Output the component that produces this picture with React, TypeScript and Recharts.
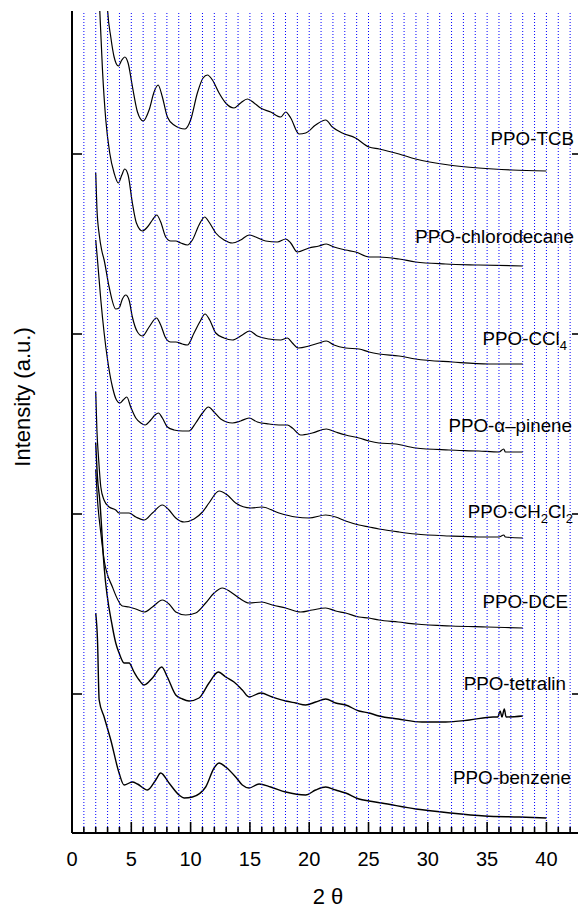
import React from 'react';
import { LineChart, Line, XAxis, YAxis } from 'recharts';

// 2θ (deg), intensity (a.u., arbitrary offset per trace)
const PPO_TCB: [number, number][] = [
  [2.5, 960], [2.9, 845], [3.0, 823], [3.27, 796], [3.55, 776], [3.91, 767], [4.2, 773], [4.45, 776],
  [4.73, 770], [5.1, 746], [5.52, 721], [6.0, 712], [6.5, 723], [6.92, 741], [7.26, 748], [7.62, 736],
  [8.04, 716], [8.6, 708], [9.53, 704], [10.0, 713], [10.57, 740], [11.05, 755], [11.42, 758], [11.84, 753],
  [12.4, 740], [12.96, 730], [13.66, 725], [14.22, 730], [14.79, 734], [15.35, 730], [15.9, 725], [16.75, 721],
  [17.6, 716], [18.02, 721], [18.44, 715], [19.14, 699], [19.7, 700], [20.54, 708], [21.39, 713], [21.95, 706],
  [22.79, 700], [23.9, 695], [25.04, 686], [25.9, 684], [27.57, 679], [28.97, 674], [31.78, 668], [34.3, 665],
  [37.1, 663], [40, 662],
];

const PPO_CHLORODECANE: [number, number][] = [
  [2.1, 900], [2.34, 823], [2.57, 763], [2.85, 713], [3.18, 680], [3.55, 660], [3.91, 650], [4.2, 658],
  [4.45, 664], [4.73, 658], [5.09, 630], [5.43, 610], [5.94, 602], [6.36, 606], [6.78, 613], [7.14, 618],
  [7.48, 611], [7.9, 596], [8.32, 592], [8.75, 592], [9.17, 590], [9.73, 588], [10.15, 593], [10.71, 608],
  [11.19, 616], [11.55, 611], [12.12, 600], [12.82, 593], [13.52, 590], [14.22, 593], [14.93, 598], [15.49, 596],
  [16.33, 592], [17.31, 591], [18.02, 594], [18.44, 590], [19.0, 581], [19.98, 585], [20.82, 587], [21.44, 589],
  [22.09, 586], [23.07, 583], [23.92, 581], [25.04, 576], [25.88, 576], [27.57, 574], [28.97, 571], [31.5, 569],
  [34.3, 568], [38, 567],
];

const PPO_CCL4: [number, number][] = [
  [2.0, 660], [2.1, 625], [2.3, 598], [2.5, 583], [2.71, 573], [3.13, 546], [3.69, 524], [3.97, 525],
  [4.25, 534], [4.53, 538], [4.81, 533], [5.09, 516], [5.52, 501], [5.94, 497], [6.5, 506], [7.12, 515],
  [7.48, 508], [7.9, 495], [8.32, 491], [8.75, 491], [9.31, 489], [9.73, 488], [10.29, 500], [10.77, 511],
  [11.22, 519], [11.61, 513], [12.12, 500], [12.82, 495], [13.52, 493], [14.36, 498], [14.98, 502], [15.63, 497],
  [16.61, 494], [17.59, 493], [18.16, 495], [18.58, 490], [19.08, 485], [19.98, 487], [20.82, 490], [21.44, 492],
  [22.09, 488], [23.07, 485], [24.2, 484], [25.04, 481], [25.88, 479], [27.57, 477], [28.97, 474], [32.06, 471],
  [35.14, 469], [38, 469],
];

const PPO_PINENE: [number, number][] = [
  [2.0, 593], [2.15, 573], [2.43, 533], [2.71, 500], [3.0, 473], [3.41, 446], [3.75, 433], [4.03, 430],
  [4.31, 433], [4.62, 436], [4.95, 426], [5.38, 415], [5.8, 410], [6.16, 408], [6.64, 413], [7.0, 418],
  [7.29, 420], [7.62, 415], [8.04, 406], [8.6, 403], [9.31, 402], [9.87, 402], [10.43, 410], [11.0, 420],
  [11.5, 426], [11.98, 421], [12.54, 414], [13.52, 410], [14.22, 412], [14.93, 415], [15.63, 411], [16.61, 409],
  [17.45, 408], [18.16, 408], [18.58, 405], [19.28, 398], [20.26, 400], [21.44, 404], [22.23, 401], [23.07, 398],
  [24.2, 395], [25.04, 392], [25.88, 390], [27.3, 389], [28.97, 385], [31.78, 383], [34.3, 382], [36.0, 381],
  [36.4, 384], [36.54, 381], [38, 381],
];

const PPO_CH2CL2: [number, number][] = [
  [2.0, 441], [2.1, 403], [2.25, 373], [2.43, 346], [2.7, 333], [3.13, 326], [3.69, 323], [3.97, 320],
  [4.81, 320], [5.38, 316], [6.08, 313], [6.78, 320], [7.62, 328], [8.18, 323], [8.75, 315], [9.45, 311],
  [10.29, 314], [11.0, 321], [11.55, 330], [12.4, 342], [13.1, 338], [13.8, 330], [15.07, 325], [16.0, 326],
  [17.45, 320], [18.86, 316], [19.98, 315], [21.39, 318], [22.23, 316], [23.07, 312], [24.2, 308], [25.04, 306],
  [25.88, 304], [27.57, 301], [28.97, 299], [31.78, 297], [34.3, 296], [36.0, 296], [36.4, 298], [36.54, 296],
  [38, 295],
];

const PPO_DCE: [number, number][] = [
  [2.0, 363], [2.15, 333], [2.43, 300], [2.71, 273], [3.41, 246], [4.25, 227], [4.81, 226], [5.38, 224],
  [6.08, 221], [6.78, 226], [7.62, 233], [8.18, 229], [8.75, 221], [9.59, 218], [10.43, 220], [11.27, 230],
  [11.98, 240], [12.68, 245], [13.38, 241], [14.08, 235], [14.93, 230], [16.0, 231], [16.89, 228], [18.02, 225],
  [19.28, 221], [20.26, 223], [21.39, 225], [22.23, 222], [23.07, 220], [24.2, 216], [25.04, 215], [25.88, 213],
  [27.5, 211], [29, 209], [32, 207], [35, 206], [38, 205],
];

const PPO_TETRALIN: [number, number][] = [
  [2.0, 390], [2.15, 355], [2.34, 333], [2.71, 266], [3.41, 206], [3.69, 190], [3.97, 180], [4.39, 170],
  [4.81, 170], [5.23, 161], [5.66, 153], [6.08, 148], [6.78, 155], [7.57, 166], [8.04, 156], [8.75, 138],
  [9.31, 134], [9.87, 132], [10.71, 135], [11.55, 150], [12.34, 161], [12.96, 156], [13.66, 151], [14.36, 143],
  [14.93, 136], [15.91, 140], [16.89, 136], [18.02, 132], [18.86, 130], [19.7, 128], [20.54, 131], [21.39, 134],
  [22.23, 130], [23.07, 128], [24.2, 122], [25.04, 120], [25.88, 117], [27.5, 114], [29.5, 111], [31.5, 111],
  [33.5, 113], [35.5, 116], [35.9, 116], [36.1, 122], [36.25, 116], [36.45, 124], [36.6, 116], [38, 117],
];

const PPO_BENZENE: [number, number][] = [
  [2.0, 220], [2.15, 193], [2.29, 133], [2.71, 116], [3.27, 93], [3.97, 60], [4.39, 48], [5.09, 51],
  [5.52, 49], [6.36, 43], [7.06, 53], [7.48, 60], [8.18, 50], [9.03, 38], [9.45, 35], [10.15, 36],
  [11.27, 46], [11.98, 65], [12.4, 70], [12.96, 66], [13.8, 56], [14.36, 48], [14.93, 45], [15.77, 49],
  [16.75, 46], [18.02, 41], [19.7, 38], [20.54, 43], [21.39, 46], [22.23, 43], [23.07, 40], [24.2, 34],
  [25.04, 32], [26.1, 30], [29.0, 24], [31.9, 20], [34.8, 17], [37.7, 16], [40, 15],
];

const SERIES = [PPO_TCB, PPO_CHLORODECANE, PPO_CCL4, PPO_PINENE, PPO_CH2CL2, PPO_DCE, PPO_TETRALIN, PPO_BENZENE];

const X_TICKS = [
  0, 1, 2, 3, 4, 5, 6, 7, 8, 9, 10, 11, 12, 13, 14, 15, 16, 17, 18, 19, 20, 21,
  22, 23, 24, 25, 26, 27, 28, 29, 30, 31, 32, 33, 34, 35, 36, 37, 38, 39, 40, 41, 42,
];
const X_LABELS = [0, 5, 10, 15, 20, 25, 30, 35, 40];
const Y_TICKS = [139, 319, 499, 679];

const FONT = '"Liberation Sans", Arial, sans-serif';
const PLOT_TOP = 11;

// bottom axis tick: inward tick mark, label below, plus the dotted blue grid line
const BottomTick = ({ x, y, payload }: any) => {
  const v = payload.value;
  const major = v % 5 === 0;
  return (
    <g>
      {v > 0 && (
        <line x1={x} x2={x} y1={y} y2={PLOT_TOP} stroke="#0000ff" strokeWidth={1} strokeDasharray="1 2" />
      )}
      <line x1={x} x2={x} y1={y} y2={y - (major ? 11 : 6)} stroke="#000" strokeWidth={1.6} />
      {X_LABELS.includes(v) && (
        <text x={x} y={y + 33} textAnchor="middle" fontSize={20} fontFamily={FONT} fill="#000">
          {v}
        </text>
      )}
    </g>
  );
};

const TopTick = ({ x, y, payload }: any) => {
  const major = payload.value % 5 === 0;
  return <line x1={x} x2={x} y1={y} y2={y + (major ? 11 : 6)} stroke="#000" strokeWidth={1.6} />;
};

const LeftTick = ({ x, y }: any) => <line x1={x} x2={x + 10} y1={y} y2={y} stroke="#000" strokeWidth={1.6} />;
const RightTick = ({ x, y }: any) => <line x1={x} x2={x - 10} y1={y} y2={y} stroke="#000" strokeWidth={1.6} />;

const txt = { fontFamily: FONT, fontSize: 18.8, fill: '#000', textAnchor: 'end' as const };
const sub = { fontSize: 13 };

export default function App() {
  return (
    <div style={{ position: 'fixed', left: 0, top: 0, width: 578, height: 912, overflow: 'hidden', background: '#fff' }}>
      <LineChart width={600} height={912} margin={{ top: PLOT_TOP, right: 0, bottom: 0, left: 0 }}>
        <XAxis
          xAxisId="b"
          type="number"
          dataKey="x"
          domain={[0, 43]}
          allowDataOverflow
          ticks={X_TICKS}
          interval={0}
          height={79}
          tickSize={0}
          tickMargin={0}
          tickLine={false}
          axisLine={{ stroke: '#000', strokeWidth: 2 }}
          tick={<BottomTick />}
        />
        <XAxis
          xAxisId="t"
          orientation="top"
          type="number"
          domain={[0, 43]}
          allowDataOverflow
          ticks={X_TICKS}
          interval={0}
          height={0}
          tickSize={0}
          tickMargin={0}
          tickLine={false}
          axisLine={{ stroke: '#000', strokeWidth: 2 }}
          tick={<TopTick />}
        />
        <YAxis
          yAxisId="l"
          type="number"
          domain={[0, 822]}
          allowDataOverflow
          ticks={Y_TICKS}
          interval={0}
          width={72}
          tickSize={0}
          tickMargin={0}
          tickLine={false}
          axisLine={{ stroke: '#000', strokeWidth: 2 }}
          tick={<LeftTick />}
        />
        <YAxis
          yAxisId="r"
          orientation="right"
          type="number"
          domain={[0, 822]}
          allowDataOverflow
          ticks={Y_TICKS}
          interval={0}
          width={18}
          tickSize={0}
          tickMargin={0}
          tickLine={false}
          axisLine={{ stroke: '#000', strokeWidth: 2 }}
          tick={<RightTick />}
        />
        {SERIES.map((s, i) => (
          <Line
            key={i}
            xAxisId="b"
            yAxisId="l"
            data={s.map(([x, y]) => ({ x, y }))}
            dataKey="y"
            type="monotone"
            stroke="#000"
            strokeWidth={i >= 6 ? 1.4 : 1.2}
            dot={false}
            activeDot={false}
            isAnimationActive={false}
          />
        ))}
      </LineChart>
      <svg width={578} height={912} style={{ position: 'absolute', left: 0, top: 0, pointerEvents: 'none' }}>
        <text {...txt} x={574} y={145}>PPO-TCB</text>
        <text {...txt} x={574} y={243}>PPO-chlorodecane</text>
        <text {...txt} x={567} y={345}>
          PPO-CCl<tspan {...sub} dy={5}>4</tspan>
        </text>
        <text {...txt} x={572} y={432}>PPO-α–pinene</text>
        <text {...txt} x={573} y={518}>
          PPO-CH<tspan {...sub} dy={5}>2</tspan>
          <tspan dy={-5}>Cl</tspan>
          <tspan {...sub} dy={5}>2</tspan>
        </text>
        <text {...txt} x={568} y={608}>PPO-DCE</text>
        <text {...txt} x={566} y={690}>PPO-tetralin</text>
        <text {...txt} x={571} y={784}>PPO-benzene</text>
        <text x={30} y={397} transform="rotate(-90, 30, 397)" textAnchor="middle" fontSize={22} fontFamily={FONT}>
          Intensity (a.u.)
        </text>
        <text x={328} y={904} textAnchor="middle" fontSize={22} fontFamily={FONT}>
          2 θ
        </text>
      </svg>
    </div>
  );
}
